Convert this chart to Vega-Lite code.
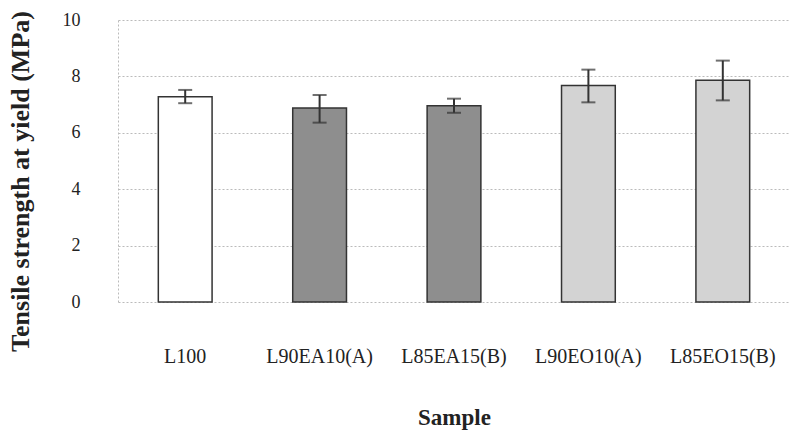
{
  "$schema": "https://vega.github.io/schema/vega-lite/v6.json",
  "width": 672,
  "height": 282,
  "autosize": {"type": "none"},
  "padding": {"left": 118, "top": 20, "right": 1, "bottom": 134},
  "background": "white",
  "config": {
    "view": {"stroke": null},
    "font": "Liberation Serif",
    "axis": {"labelFont": "Liberation Serif", "titleFont": "Liberation Serif"}
  },
  "data": {
    "values": [
      {"sample": "L100", "group": "neat", "strength": 7.28, "lo": 7.05, "hi": 7.52},
      {"sample": "L90EA10(A)", "group": "EA", "strength": 6.88, "lo": 6.36, "hi": 7.34},
      {"sample": "L85EA15(B)", "group": "EA", "strength": 6.96, "lo": 6.71, "hi": 7.21},
      {"sample": "L90EO10(A)", "group": "EO", "strength": 7.68, "lo": 7.08, "hi": 8.24},
      {"sample": "L85EO15(B)", "group": "EO", "strength": 7.86, "lo": 7.15, "hi": 8.56}
    ]
  },
  "encoding": {
    "x": {
      "field": "sample",
      "type": "nominal",
      "sort": null,
      "scale": {"paddingInner": 0.6, "paddingOuter": 0.3},
      "axis": {
        "title": "Sample",
        "labelAngle": 0,
        "labelFont": "Liberation Serif",
        "labelFontSize": 20,
        "labelColor": "#222",
        "labelBaseline": "alphabetic",
        "labelPadding": 60,
        "ticks": false,
        "domain": false,
        "titleFont": "Liberation Serif",
        "titleFontSize": 23,
        "titleFontWeight": "bold",
        "titleColor": "#222",
        "titleY": 122,
        "titleBaseline": "alphabetic"
      }
    }
  },
  "layer": [
    {
      "mark": {"type": "bar", "stroke": "#333", "strokeWidth": 1.5},
      "encoding": {
        "y": {
          "field": "strength",
          "type": "quantitative",
          "scale": {"domain": [0, 10], "nice": false},
          "axis": {
            "title": "Tensile strength at yield (MPa)",
            "values": [0, 2, 4, 6, 8, 10],
            "ticks": false,
            "labelFont": "Liberation Serif",
            "labelPadding": 38,
            "labelFontSize": 18,
            "labelColor": "#222",
            "domain": true,
            "domainColor": "#bbbbbb",
            "domainDash": [2, 2],
            "grid": true,
            "gridColor": "#bbbbbb",
            "gridDash": [2, 2],
            "titleFont": "Liberation Serif",
            "titleFontSize": 26,
            "titleFontWeight": "bold",
            "titleColor": "#222",
            "titleX": -98,
            "titleY": 161,
            "titleBaseline": "middle"
          }
        },
        "fill": {
          "field": "group",
          "type": "nominal",
          "scale": {"domain": ["neat", "EA", "EO"], "range": ["#ffffff", "#8e8e8e", "#d3d3d3"]},
          "legend": null
        }
      }
    },
    {
      "mark": {"type": "rule", "color": "#333", "strokeWidth": 2},
      "encoding": {
        "y": {"field": "lo", "type": "quantitative"},
        "y2": {"field": "hi"}
      }
    },
    {
      "mark": {"type": "tick", "color": "#333", "thickness": 2, "size": 14},
      "encoding": {"y": {"field": "lo", "type": "quantitative"}}
    },
    {
      "mark": {"type": "tick", "color": "#333", "thickness": 2, "size": 14},
      "encoding": {"y": {"field": "hi", "type": "quantitative"}}
    }
  ]
}
